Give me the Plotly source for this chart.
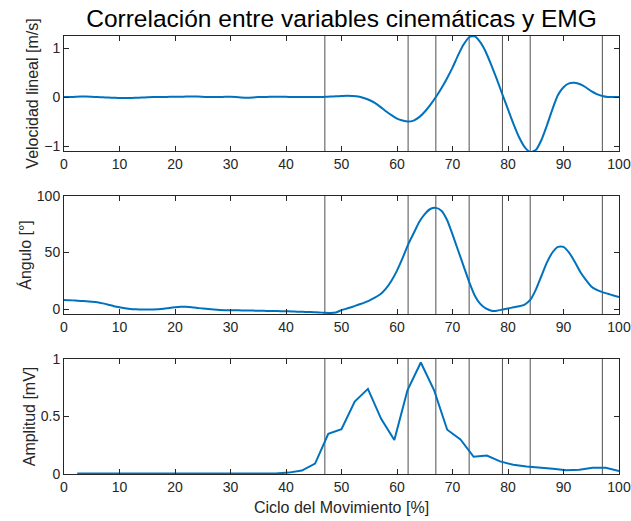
import plotly.graph_objects as go

x_pct = list(range(0, 101))

velocidad = [0.0, 0.0, 0.005, 0.01, 0.01, 0.005, 0.0, -0.005, -0.01, -0.015,
             -0.02, -0.02, -0.02, -0.015, -0.01, -0.005, 0.0, 0.0, 0.0, 0.005,
             0.005, 0.005, 0.01, 0.01, 0.01, 0.005, 0.0, 0.0, 0.0, 0.005,
             0.005, 0.0, -0.01, -0.015, -0.01, 0.0, 0.0, 0.005, 0.005, 0.005,
             0.005, 0.0, 0.0, 0.0, 0.0, 0.0, 0.0, 0.005, 0.01, 0.015,
             0.02, 0.025, 0.02, 0.01, -0.02, -0.06, -0.12, -0.2, -0.29, -0.37,
             -0.44, -0.48, -0.5, -0.48, -0.41, -0.3, -0.16, 0.0, 0.18, 0.38,
             0.6, 0.85, 1.07, 1.22, 1.24, 1.12, 0.92, 0.65, 0.36, 0.05,
             -0.25, -0.55, -0.82, -1.02, -1.12, -1.08, -0.88, -0.58, -0.25, 0.04,
             0.2, 0.28, 0.29, 0.26, 0.2, 0.12, 0.06, 0.02, 0.0, 0.0, 0.0]

angulo = [8.0, 7.8, 7.5, 7.2, 6.9, 6.5, 6.0, 5.0, 3.8, 2.5,
          1.5, 0.7, 0.0, -0.3, -0.5, -0.5, -0.4, -0.2, 0.3, 1.0,
          1.6, 2.0, 2.0, 1.6, 1.0, 0.4, 0.0, -0.5, -0.9, -1.0,
          -1.0, -1.1, -1.2, -1.3, -1.4, -1.5, -1.6, -1.7, -1.8, -1.9,
          -2.0, -2.1, -2.3, -2.5, -2.6, -2.8, -3.0, -3.4, -3.5, -3.0,
          -1.0, 0.5, 2.0, 3.8, 5.5, 7.5, 10.0, 13.0, 18.0, 25.0,
          34.0, 45.0, 57.0, 67.0, 77.0, 84.0, 88.5, 89.5, 87.0, 79.0,
          66.0, 52.0, 38.0, 24.0, 12.0, 4.5, 0.5, -1.5, -1.5, -0.5,
          0.5, 1.5, 2.5, 4.0, 8.0, 17.0, 29.0, 41.0, 50.0, 55.0,
          55.0, 50.0, 42.0, 33.0, 26.0, 20.0, 17.0, 15.0, 13.5, 12.0, 10.5]

emg_x = [2.38, 4.76, 7.14, 9.52, 11.9, 14.29, 16.67, 19.05, 21.43, 23.81,
         26.19, 28.57, 30.95, 33.33, 35.71, 38.1, 40.48, 42.86, 45.24, 47.62,
         50.0, 52.38, 54.76, 57.14, 59.52, 61.9, 64.29, 66.67, 69.05, 71.43,
         73.81, 76.19, 78.57, 80.95, 83.33, 85.71, 88.1, 90.48, 92.86, 95.24,
         97.62, 100.0]
emg_y = [0.005, 0.005, 0.003, 0.003, 0.003, 0.003, 0.003, 0.003, 0.003, 0.003,
         0.004, 0.003, 0.003, 0.003, 0.004, 0.005, 0.012, 0.03, 0.09, 0.35,
         0.39, 0.63, 0.74, 0.48, 0.295, 0.73, 0.97, 0.73, 0.385, 0.30,
         0.15, 0.16, 0.11, 0.08, 0.065, 0.057, 0.045, 0.032, 0.037, 0.055,
         0.055, 0.025]

eventos = [47, 62, 67, 73, 79, 84, 97]

x_ticks = [0, 10, 20, 30, 40, 50, 60, 70, 80, 90, 100]

LINE = "#0072BD"
AX = "#262626"
FONT = "Liberation Sans, Arial, sans-serif"

fig = go.Figure()
fig.add_trace(go.Scatter(x=x_pct, y=velocidad, mode="lines",
                         line=dict(color=LINE, width=2, shape="spline", smoothing=0.6),
                         xaxis="x", yaxis="y"))
fig.add_trace(go.Scatter(x=x_pct, y=angulo, mode="lines",
                         line=dict(color=LINE, width=2, shape="spline", smoothing=0.6),
                         xaxis="x2", yaxis="y2"))
fig.add_trace(go.Scatter(x=emg_x, y=emg_y, mode="lines",
                         line=dict(color=LINE, width=2), xaxis="x3", yaxis="y3"))

shapes = []
for xr, yr in [("x", "y"), ("x2", "y2"), ("x3", "y3")]:
    for e in eventos:
        shapes.append(dict(type="line", xref=xr, yref=yr + " domain",
                           x0=e, x1=e, y0=0, y1=1,
                           line=dict(color="#505050", width=1), layer="below"))

W, H = 631, 521
x0p, x1p = 64 / W, 619 / W
doms = [(1 - 151 / H, 1 - 36 / H), (1 - 314 / H, 1 - 196 / H), (1 - 474 / H, 1 - 359 / H)]

common_x = dict(range=[0, 100], tickvals=x_ticks, ticks="inside", ticklen=5,
                tickcolor=AX, showline=True, linecolor=AX, linewidth=1,
                mirror="allticks", showgrid=False, zeroline=False,
                tickfont=dict(family=FONT, size=14, color=AX),
                domain=[x0p, x1p], automargin=False)
common_y = dict(ticks="inside", ticklen=5, tickcolor=AX, showline=True,
                linecolor=AX, linewidth=1, mirror="allticks", showgrid=False,
                zeroline=False, tickfont=dict(family=FONT, size=14, color=AX),
                automargin=False)

TFS = 16

fig.update_layout(
    width=W, height=H,
    margin=dict(l=0, r=0, t=0, b=0),
    paper_bgcolor="white", plot_bgcolor="white",
    showlegend=False,
    shapes=shapes,
    font=dict(family=FONT, color=AX),
    title=dict(text="Correlación entre variables cinemáticas y EMG",
               x=(64 + 619) / 2 / W, xanchor="center", y=1 - 18 / H, yanchor="middle",
               font=dict(family=FONT, size=24.5, color="black")),
    xaxis=dict(**common_x, anchor="y"),
    xaxis2=dict(**common_x, anchor="y2"),
    xaxis3=dict(**common_x, anchor="y3",
                title=dict(text="Ciclo del Movimiento [%]", standoff=8,
                           font=dict(family=FONT, size=TFS, color=AX))),
    yaxis=dict(**common_y, domain=list(doms[0]), anchor="x", range=[-1.1, 1.245],
               tickvals=[-1, 0, 1],
               title=dict(text="Velocidad lineal [m/s]", standoff=1,
                          font=dict(family=FONT, size=TFS, color=AX))),
    yaxis2=dict(**common_y, domain=list(doms[1]), anchor="x2", range=[-4.4, 100],
                tickvals=[0, 50, 100],
                title=dict(text="Ángulo [°]", standoff=1,
                           font=dict(family=FONT, size=TFS, color=AX))),
    yaxis3=dict(**common_y, domain=list(doms[2]), anchor="x3", range=[0, 1],
                tickvals=[0, 0.5, 1],
                title=dict(text="Amplitud [mV]", standoff=1,
                           font=dict(family=FONT, size=TFS, color=AX))),
)

fig.write_html("out.html")
